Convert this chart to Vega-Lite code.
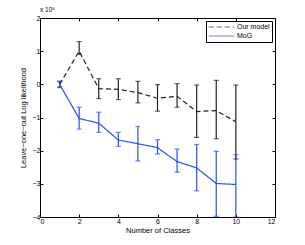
{
  "$schema": "https://vega.github.io/schema/vega-lite/v6.json",
  "autosize": "none",
  "width": 235,
  "height": 199,
  "padding": {"left": 40, "top": 18, "right": 30, "bottom": 28},
  "background": "white",
  "config": {
    "font": "Liberation Sans",
    "view": {"stroke": "black", "strokeWidth": 1},
    "axis": {
      "domain": false, "grid": false, "tickColor": "black", "tickSize": -3, "tickWidth": 1, "labelOverlap": false,
      "labelFont": "Liberation Sans", "labelFontSize": 7, "labelColor": "black",
      "titleFont": "Liberation Sans", "titleFontSize": 7.5, "titleFontWeight": "normal", "titleColor": "black"
    }
  },
  "title": {"text": "x 10⁵", "anchor": "start", "frame": "group", "fontSize": 6.5, "fontWeight": "normal", "font": "Liberation Sans", "color": "black", "offset": 1},
  "datasets": {
    "pts": [
      {"k": 1, "series": "Our model", "mean": 0.0, "lo": -0.08, "hi": 0.08},
      {"k": 2, "series": "Our model", "mean": 1.0, "lo": 0.9, "hi": 1.29},
      {"k": 3, "series": "Our model", "mean": -0.13, "lo": -0.43, "hi": 0.17},
      {"k": 4, "series": "Our model", "mean": -0.15, "lo": -0.46, "hi": 0.17},
      {"k": 5, "series": "Our model", "mean": -0.25, "lo": -0.56, "hi": 0.09},
      {"k": 6, "series": "Our model", "mean": -0.42, "lo": -0.81, "hi": -0.01},
      {"k": 7, "series": "Our model", "mean": -0.36, "lo": -0.69, "hi": 0.02},
      {"k": 8, "series": "Our model", "mean": -0.82, "lo": -1.6, "hi": -0.02},
      {"k": 9, "series": "Our model", "mean": -0.79, "lo": -1.64, "hi": 0.12},
      {"k": 10, "series": "Our model", "mean": -1.13, "lo": -2.25, "hi": -0.02},
      {"k": 1, "series": "MoG", "mean": 0.0, "lo": -0.1, "hi": 0.1},
      {"k": 2, "series": "MoG", "mean": -1.03, "lo": -1.35, "hi": -0.69},
      {"k": 3, "series": "MoG", "mean": -1.17, "lo": -1.45, "hi": -0.84},
      {"k": 4, "series": "MoG", "mean": -1.68, "lo": -1.87, "hi": -1.45},
      {"k": 5, "series": "MoG", "mean": -1.79, "lo": -2.31, "hi": -1.27},
      {"k": 6, "series": "MoG", "mean": -1.91, "lo": -2.1, "hi": -1.67},
      {"k": 7, "series": "MoG", "mean": -2.33, "lo": -2.65, "hi": -1.95},
      {"k": 8, "series": "MoG", "mean": -2.52, "lo": -3.21, "hi": -1.81},
      {"k": 9, "series": "MoG", "mean": -2.99, "lo": -3.98, "hi": -2.02},
      {"k": 10, "series": "MoG", "mean": -3.02, "lo": -4.0, "hi": -2.12}
    ]
  },
  "data": {"name": "pts"},
  "resolve": {"axis": {"x": "independent", "y": "independent"}},
  "layer": [
    {
      "mark": {"type": "rule", "strokeWidth": 1.2, "clip": true},
      "encoding": {
        "x": {"field": "k", "type": "quantitative", "scale": {"domain": [0, 12]}, "axis": {"title": "Number of Classes", "values": [0,2,4,6,8,10,12], "titlePadding": 2, "labelPadding": 3}},
        "y": {"field": "lo", "type": "quantitative", "scale": {"domain": [-4, 2]}, "axis": {"title": "Leave−one−out Log likelihood", "values": [-4,-3,-2,-1,0,1,2], "titlePadding": 5, "labelPadding": 3}},
        "y2": {"field": "hi"},
        "color": {"field": "series", "type": "nominal", "scale": {"domain": ["Our model", "MoG"], "range": ["#222222", "#2d4dff"]}}
      }
    },
    {
      "mark": {"type": "tick", "orient": "horizontal", "size": 5, "thickness": 1.2, "clip": true},
      "encoding": {
        "x": {"field": "k", "type": "quantitative", "axis": null},
        "y": {"field": "lo", "type": "quantitative", "axis": null},
        "color": {"field": "series", "type": "nominal", "scale": {"domain": ["Our model", "MoG"], "range": ["#222222", "#2d4dff"]}}
      }
    },
    {
      "mark": {"type": "tick", "orient": "horizontal", "size": 5, "thickness": 1.2, "clip": true},
      "encoding": {
        "x": {"field": "k", "type": "quantitative", "axis": null},
        "y": {"field": "hi", "type": "quantitative", "axis": null},
        "color": {"field": "series", "type": "nominal", "scale": {"domain": ["Our model", "MoG"], "range": ["#222222", "#2d4dff"]}}
      }
    },
    {
      "mark": {"type": "line", "strokeWidth": 1.2, "clip": true},
      "encoding": {
        "x": {"field": "k", "type": "quantitative", "axis": {"orient": "top", "title": null, "labels": false, "values": [0,2,4,6,8,10,12]}},
        "y": {"field": "mean", "type": "quantitative", "axis": {"orient": "right", "title": null, "labels": false, "values": [-4,-3,-2,-1,0,1,2]}},
        "color": {"field": "series", "type": "nominal", "scale": {"domain": ["Our model", "MoG"], "range": ["#222222", "#2d4dff"]}, "legend": {
          "title": null, "orient": "top-right", "offset": 3, "strokeColor": "black", "fillColor": "white", "padding": 2,
          "symbolType": "stroke", "symbolSize": 650, "clipHeight": 8, "symbolStrokeWidth": 1.2, "labelFontSize": 7, "labelColor": "black", "labelFont": "Liberation Sans", "rowPadding": 1, "labelOffset": 2
        }},
        "strokeDash": {"field": "series", "type": "nominal", "scale": {"domain": ["Our model", "MoG"], "range": [[5, 3], [1, 0]]}, "legend": {
          "title": null, "orient": "top-right", "offset": 3, "strokeColor": "black", "fillColor": "white", "padding": 2,
          "symbolType": "stroke", "symbolSize": 650, "clipHeight": 8, "symbolStrokeWidth": 1.2, "labelFontSize": 7, "labelColor": "black", "labelFont": "Liberation Sans", "rowPadding": 1, "labelOffset": 2
        }}
      }
    }
  ]
}
